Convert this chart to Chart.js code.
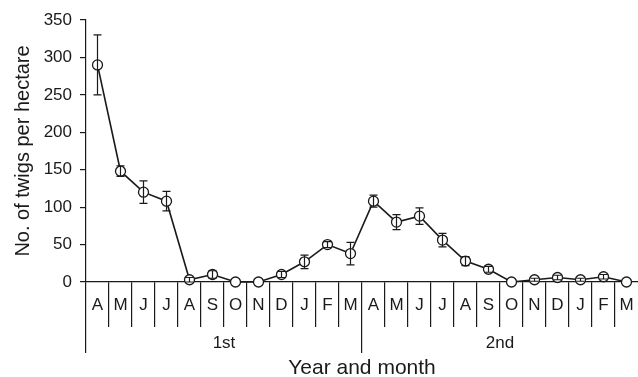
<!DOCTYPE html>
<html>
<head>
<meta charset="utf-8">
<script src="https://cdn.jsdelivr.net/npm/chart.js@4.4.1/dist/chart.umd.min.js"></script>
<style>
  html, body { margin: 0; padding: 0; background: #fff; }
  #wrap { width: 638px; height: 377px; position: relative; }
</style>
</head>
<body>
<div id="wrap"><canvas id="c"></canvas></div>
<script>
// Months of the two survey years (April to March)
const months = ['A','M','J','J','A','S','O','N','D','J','F','M',
                'A','M','J','J','A','S','O','N','D','J','F','M'];
const years = ['1st', '2nd'];
// Mean number of twigs per hectare and the standard error of each mean
const twigs = [290, 148, 120, 108, 3, 10, 0, 0, 10, 27, 50, 38,
               108, 80, 88, 56, 28, 17, 0, 3, 6, 3, 7, 0];
const twigErr = [40, 7, 15, 13, 3, 5, 0, 0, 4, 9, 4, 15,
                 8, 10, 11, 9, 6, 4, 0, 2, 3, 2, 3, 0];
const yTicks = [0, 50, 100, 150, 200, 250, 300, 350];

const INK = '#1a1a1a';
const FONT = '"Liberation Sans", Arial, Helvetica, sans-serif';

// Divider colour: the closing divider after the final category is left out
const dividerColor = (c) => (c.type === 'tick' ? INK : 'rgba(0,0,0,0)');

// Vertical error bars with caps, drawn through the chart scales
const errorBars = {
  id: 'errorBars',
  afterDatasetsDraw(chart) {
    const ctx = chart.ctx;
    const xs = chart.scales.x, ys = chart.scales.y;
    ctx.save();
    ctx.strokeStyle = INK;
    ctx.lineWidth = 1.2;
    twigs.forEach((v, i) => {
      const e = twigErr[i];
      if (!e) return;
      const x = xs.getPixelForValue(i);
      const yTop = ys.getPixelForValue(v + e);
      const yBot = ys.getPixelForValue(Math.max(0, v - e));
      ctx.beginPath();
      ctx.moveTo(x, yTop); ctx.lineTo(x, yBot);
      ctx.moveTo(x - 4, yTop); ctx.lineTo(x + 4, yTop);
      ctx.moveTo(x - 4, yBot); ctx.lineTo(x + 4, yBot);
      ctx.stroke();
    });
    ctx.restore();
  }
};

new Chart(document.getElementById('c'), {
  type: 'line',
  data: {
    labels: months,
    datasets: [{
      data: twigs,
      borderColor: INK,
      borderWidth: 1.6,
      pointRadius: 5,
      pointHoverRadius: 5,
      pointBorderWidth: 1.3,
      pointBackgroundColor: '#fff',
      pointBorderColor: INK,
      tension: 0,
      clip: false,
      xAxisID: 'x'
    }]
  },
  options: {
    responsive: true,
    maintainAspectRatio: false,
    animation: false,
    events: [],
    layout: { autoPadding: false, padding: { top: 20, right: 0, left: 0, bottom: 0 } },
    plugins: { legend: { display: false }, tooltip: { enabled: false } },
    scales: {
      x: {
        type: 'category',
        position: 'bottom',
        offset: true,
        border: { display: true, color: INK, width: 1.2 },
        grid: { offset: true, drawOnChartArea: false, drawTicks: true, tickLength: 45, color: dividerColor, lineWidth: 1.2 },
        ticks: { color: INK, font: { family: FONT, size: 17 }, padding: -32, maxRotation: 0, autoSkip: false },
        afterFit(s) { s.height = 45; }
      },
      year: {
        type: 'category',
        position: 'bottom',
        labels: years,
        offset: true,
        border: { display: false },
        grid: { offset: true, drawOnChartArea: false, drawTicks: true, tickLength: 26, color: dividerColor, lineWidth: 1.2 },
        ticks: { color: INK, font: { family: FONT, size: 17 }, padding: -20, maxRotation: 0 },
        title: { display: true, text: 'Year and month', color: INK, font: { family: FONT, size: 21, lineHeight: 1.2 }, padding: { top: 0, bottom: -4 } },
        afterFit(s) { s.height = 50; }
      },
      y: {
        min: 0,
        max: 350,
        afterBuildTicks(s) { s.ticks = yTicks.map(v => ({ value: v })); },
        border: { display: true, color: INK, width: 1.2 },
        grid: { drawOnChartArea: false, drawTicks: true, tickLength: 6, color: INK, lineWidth: 1.2 },
        ticks: { color: INK, font: { family: FONT, size: 17 }, padding: 8 },
        title: { display: true, text: 'No. of twigs per hectare', color: INK, font: { family: FONT, size: 20 }, padding: { top: 11, bottom: 0 } },
        afterFit(s) { s.width = 86; }
      }
    }
  },
  plugins: [errorBars]
});
</script>
</body>
</html>
